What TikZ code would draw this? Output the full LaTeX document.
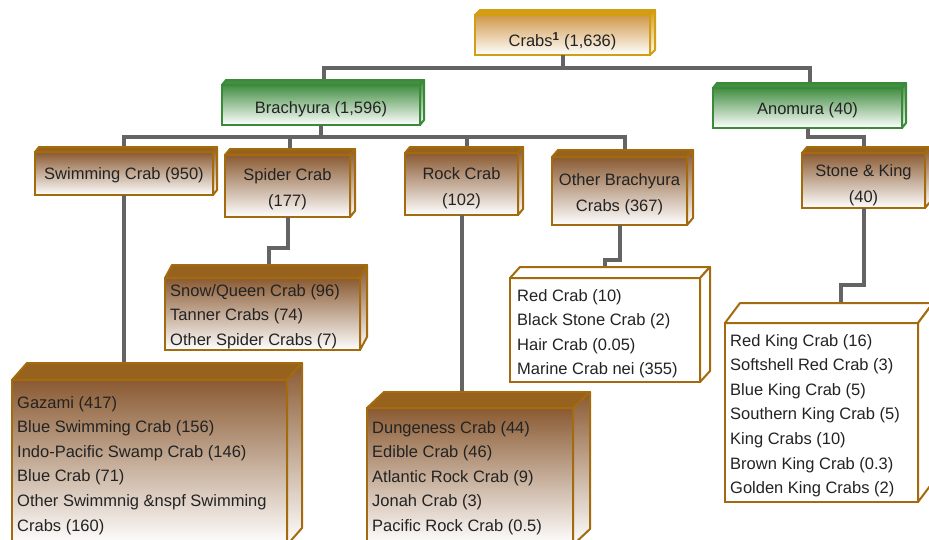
\documentclass[tikz,border=0pt]{standalone}
\usepackage{fontspec}
\setmainfont{Liberation Sans}
\definecolor{gold}{RGB}{212,158,20}
\definecolor{goldfill}{RGB}{208,152,72}
\definecolor{grn}{RGB}{58,138,58}
\definecolor{grnfill}{RGB}{66,142,66}
\definecolor{brn}{RGB}{163,106,14}
\definecolor{brnfill}{RGB}{138,90,50}
\definecolor{brntopc}{RGB}{150,98,30}
\definecolor{conn}{RGB}{100,100,100}
\definecolor{txt}{RGB}{35,35,35}
\newcommand\cubesides[4]{%
  \filldraw[#4top] (#1.north west) -- ++(#2,#3) -- ([shift={(#2,#3)}]#1.north east) -- (#1.north east) -- cycle;
  \filldraw[#4side] (#1.north east) -- ([shift={(#2,#3)}]#1.north east) -- ([shift={(#2,#3)}]#1.south east) -- (#1.south east) -- cycle;
}
\tikzset{
  conn/.style={draw=conn, line width=4pt},
  front/.style={rectangle, outer sep=0pt, inner sep=0pt, line width=2pt},
  lbl/.style={inner sep=0pt, align=center, text=txt, font=\fontsize{16.5}{26}\selectfont},
  face/.style={line width=2pt, line join=round},
  gold/.style={front, draw=gold, top color=goldfill, bottom color=white},
  goldtop/.style={face, draw=gold, fill=gold},
  goldside/.style={face, draw=gold, top color=gold, bottom color=white},
  green/.style={front, draw=grn, top color=grnfill, bottom color=white},
  greentop/.style={face, draw=grn, fill=grnfill},
  greenside/.style={face, draw=grn, top color=grnfill, bottom color=white},
  brown/.style={front, draw=brn, top color=brnfill, bottom color=white},
  browntop/.style={face, draw=brn, fill=brntopc},
  brownside/.style={face, draw=brn, top color=brnfill, bottom color=white},
  plain/.style={front, draw=brn, fill=white},
  plaintop/.style={face, draw=brn, fill=white},
  plainside/.style={face, draw=brn, fill=white},
  list/.style={anchor=north west, inner sep=0pt, align=left, text=txt,
    font=\fontsize{16.5}{24.6}\selectfont},
}
\begin{document}
\begin{tikzpicture}[x=1pt, y=-1pt]
\clip (0,0) rectangle (929,539);
\fill[white] (0,0) rectangle (929,539);
% boxes (front faces)
\node[gold, minimum width=175pt, minimum height=40pt] (crabs) at (562.5,35) {};
\node[green, minimum width=198pt, minimum height=40pt] (brach) at (321,105) {};
\node[green, minimum width=189pt, minimum height=40pt] (anom) at (807.5,108) {};
\node[brown, minimum width=178pt, minimum height=43pt] (swim) at (124,173.5) {};
\node[brown, minimum width=125pt, minimum height=62pt] (spider) at (287.5,186) {};
\node[brown, minimum width=113pt, minimum height=62pt] (rock) at (461.5,184) {};
\node[brown, minimum width=135pt, minimum height=68pt] (other) at (619.5,191) {};
\node[brown, minimum width=123pt, minimum height=55pt] (stone) at (863.5,180.5) {};
\node[brown, minimum width=195pt, minimum height=72pt] (snow) at (262.5,314) {};
\node[plain, minimum width=190pt, minimum height=104pt] (red) at (605,330) {};
\node[brown, minimum width=275pt, minimum height=165pt] (gaz) at (149.5,462.5) {};
\node[brown, minimum width=206pt, minimum height=137pt] (dung) at (470,476.5) {};
\node[plain, minimum width=193pt, minimum height=179pt] (king) at (821.5,412.5) {};
% connectors
\coordinate (bus1) at (0,68);
\coordinate (bus2) at (0,137);
\draw[conn] (crabs.south) -- (crabs.south |- bus1);
\draw[conn] ([xshift=3pt]brach.north) -- ([xshift=3pt]brach.north |- bus1) -- ([xshift=2pt]anom.north |- bus1) -- ([xshift=2pt]anom.north);
\draw[conn] (brach.south) -- (brach.south |- bus2);
\draw[conn] (swim.north) -- (swim.north |- bus2) -- ([xshift=5pt]other.north |- bus2) -- ([xshift=5pt]other.north);
\draw[conn] ([xshift=2pt]spider.north) -- ([xshift=2pt]spider.north |- bus2);
\draw[conn] ([xshift=5pt]rock.north) -- ([xshift=5pt]rock.north |- bus2);
\draw[conn] (anom.south) -- ++(0,9) -| (stone.north);
\draw[conn] (swim.south) -- (swim.south |- gaz.north);
\draw[conn] (spider.south) -- ++(0,31) -| ([xshift=6pt]snow.north);
\draw[conn] (rock.south) -- (rock.south |- dung.north);
\draw[conn] (other.south) -- ++(0,35) -| (red.north);
\draw[conn] (stone.south) -- ++(0,77) -| ([xshift=19pt]king.north);
% depth faces
\cubesides{crabs}{5}{-5}{gold}
\cubesides{brach}{4}{-5}{green}
\cubesides{anom}{4}{-5}{green}
\cubesides{swim}{4}{-5}{brown}
\cubesides{spider}{5}{-6}{brown}
\cubesides{rock}{5}{-6}{brown}
\cubesides{other}{6}{-7}{brown}
\cubesides{stone}{5}{-6}{brown}
\cubesides{snow}{7}{-13}{brown}
\cubesides{red}{10}{-11}{plain}
\cubesides{gaz}{15}{-17}{brown}
\cubesides{dung}{17}{-16}{brown}
\cubesides{king}{15}{-20}{plain}
% box texts
\node[lbl] (crabst) at ([shift={(0,6)}]crabs.center) {Crabs\textsuperscript{\textbf{1}} (1,636)};
\node[lbl] (bracht) at ([shift={(0,4)}]brach.center) {Brachyura (1,596)};
\node[lbl] (anomt) at ([shift={(0,2)}]anom.center) {Anomura (40)};
\node[lbl] (swimt) at ([shift={(0,2)}]swim.center) {Swimming Crab (950)};
\node[lbl] (spidert) at ([shift={(0,3)}]spider.center) {Spider Crab\\(177)};
\node[lbl] (rockt) at ([shift={(0,4)}]rock.center) {Rock Crab\\(102)};
\node[lbl] (othert) at ([shift={(0,3)}]other.center) {Other Brachyura\\Crabs (367)};
\node[lbl] (stonet) at ([shift={(0,5)}]stone.center) {Stone \& King\\(40)};
% list texts
\node[list] (snowtxt) at ([shift={(5,6)}]snow.north west) {Snow/Queen Crab (96)\\Tanner Crabs (74)\\Other Spider Crabs (7)};
\node[list] (redtxt) at ([shift={(7,11)}]red.north west) {Red Crab (10)\\Black Stone Crab (2)\\Hair Crab (0.05)\\Marine Crab nei (355)};
\node[list] (gaztxt) at ([shift={(5,16)}]gaz.north west) {Gazami (417)\\Blue Swimming Crab (156)\\Indo-Pacific Swamp Crab (146)\\Blue Crab (71)\\Other Swimmnig \&nspf Swimming\\Crabs (160)};
\node[list] (dungtxt) at ([shift={(5,13)}]dung.north west) {Dungeness Crab (44)\\Edible Crab (46)\\Atlantic Rock Crab (9)\\Jonah Crab (3)\\Pacific Rock Crab (0.5)};
\node[list] (kingtxt) at ([shift={(5,11)}]king.north west) {Red King Crab (16)\\Softshell Red Crab (3)\\Blue King Crab (5)\\Southern King Crab (5)\\King Crabs (10)\\Brown King Crab (0.3)\\Golden King Crabs (2)};
\end{tikzpicture}
\end{document}
